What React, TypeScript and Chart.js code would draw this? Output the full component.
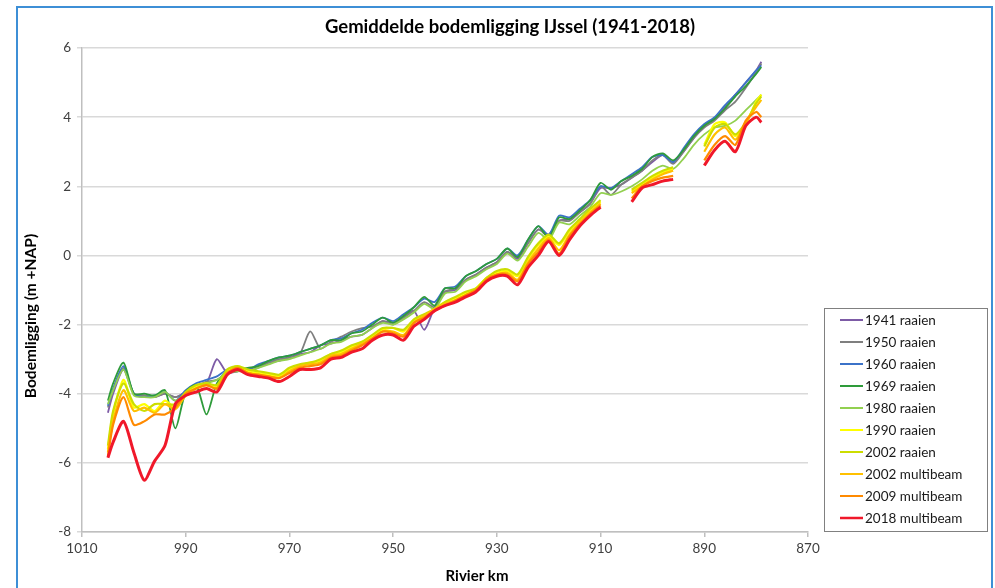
import React, { useEffect, useRef } from 'react';
import { Chart, registerables } from 'chart.js';

Chart.register(...registerables);

const TITLE = 'Gemiddelde bodemligging IJssel (1941-2018)';
const X_TITLE = 'Rivier km';
const Y_TITLE = 'Bodemligging (m +NAP)';

const X_TICKS = [1010, 990, 970, 950, 930, 910, 890, 870];
const Y_TICKS = [-8, -6, -4, -2, 0, 2, 4, 6];

const KM = [
  1005, 1004, 1002, 1000, 998, 996, 994, 992, 990, 988,
  986, 984, 982, 980, 978, 976, 974, 972, 970, 968,
  966, 964, 962, 960, 958, 956, 954, 952, 950, 948,
  946, 944, 942, 940, 938, 936, 934, 932, 930, 928,
  926, 924, 922, 920, 918, 916, 914, 912, 910, 908,
  906, 904, 902, 900, 898, 896, 894, 892, 890, 888,
  886, 884, 882, 880, 879,
];

const Y1941 = [
  -4.55, -4.0, -3.3, -4.0, -4.05, -4.1, -4.0, -4.1, -3.95, -3.75,
  -3.7, -3.0, -3.4, -3.35, -3.35, -3.25, -3.1, -3.05, -2.95, -2.85,
  -2.8, -2.6, -2.55, -2.45, -2.35, -2.3, -2.1, -1.9, -1.95, -1.8,
  -1.6, -2.15, -1.5, -1.05, -1.0, -0.7, -0.55, -0.35, -0.2, 0.1,
  -0.1, 0.35, 0.75, 0.6, 1.0, 1.05, 1.25, 1.5, 1.95, 1.95,
  2.05, 2.25, 2.45, 2.7, 2.9, 2.7, 3.0, 3.4, 3.75, 3.95,
  4.3, 4.65, 5.0, 5.35, 5.6,
];

const Y1950 = [
  -4.4, -3.9, -3.25, -4.0, -4.05, -4.1, -4.0, -4.1, -3.95, -3.8,
  -3.65, -3.6, -3.4, -3.35, -3.3, -3.2, -3.1, -3.0, -2.95, -2.85,
  -2.2, -2.7, -2.5, -2.35, -2.2, -2.1, -2.05, -1.9, -2.0, -1.8,
  -1.6, -1.35, -1.5, -1.05, -0.95, -0.7, -0.55, -0.35, -0.2, 0.1,
  -0.05, 0.35, 0.75, 0.55, 1.0, 1.0, 1.25, 1.5, 2.0, 1.75,
  2.05, 2.25, 2.45, 2.75, 2.9, 2.65, 3.0, 3.4, 3.7, 3.9,
  4.2, 4.45, 4.85, 5.3, 5.55,
];

const Y1960 = [
  -4.35, -3.85, -3.2, -4.0, -4.1, -4.05, -3.95, -4.2, -3.9, -3.7,
  -3.6, -3.5, -3.3, -3.25, -3.3, -3.15, -3.05, -2.95, -2.9, -2.8,
  -2.7, -2.6, -2.45, -2.4, -2.25, -2.15, -1.95, -1.8, -1.9, -1.7,
  -1.5, -1.25, -1.35, -0.95, -0.9, -0.6, -0.45, -0.25, -0.1, 0.2,
  0.0, 0.45, 0.85, 0.6, 1.15, 1.1, 1.35, 1.6, 2.0, 1.95,
  2.15, 2.35, 2.55, 2.85, 2.9, 2.7, 3.1, 3.5, 3.8, 4.0,
  4.35, 4.65, 5.0, 5.35, 5.5,
];

const Y1969 = [
  -4.2, -3.7, -3.1, -4.0, -4.0, -4.05, -3.9, -5.0, -3.95, -3.75,
  -4.6, -3.7, -3.35, -3.3, -3.25, -3.2, -3.05, -2.95, -2.9, -2.8,
  -2.7, -2.6, -2.45, -2.45, -2.25, -2.2, -2.0, -1.8, -1.95, -1.75,
  -1.5, -1.2, -1.45, -0.95, -0.95, -0.6, -0.45, -0.25, -0.1, 0.2,
  -0.05, 0.45, 0.85, 0.5, 1.1, 1.05, 1.3, 1.6, 2.1, 1.9,
  2.15, 2.3, 2.5, 2.85, 2.95, 2.75, 3.05, 3.45, 3.75, 3.95,
  4.25, 4.6, 4.9, 5.25, 5.45,
];

const Y1980 = [
  -4.3, -3.9, -3.3, -4.05, -4.1, -4.1, -3.95, -4.2, -4.0, -3.8,
  -3.7, -3.6, -3.4, -3.35, -3.35, -3.25, -3.15, -3.05, -3.0, -2.9,
  -2.8, -2.7, -2.55, -2.5, -2.35, -2.3, -2.1, -1.95, -2.0, -1.85,
  -1.65, -1.4, -1.55, -1.1, -1.05, -0.75, -0.6, -0.4, -0.25, 0.05,
  -0.15, 0.25, 0.65, 0.45, 0.95, 0.9, 1.15, 1.4, 1.8, 1.75,
  1.85, 2.0, 2.2, 2.45, 2.6, 2.5, 2.8, 3.2, 3.5, 3.7,
  3.75, 3.9, 4.2, 4.5, 4.65,
];

const Y1990 = [
  -5.6, -4.6, -3.6, -4.4, -4.3, -4.5, -4.2, -4.4, -4.0, -3.8,
  -3.7, -3.8, -3.35, -3.2, -3.35, -3.4, -3.45, -3.5, -3.3, -3.2,
  -3.1, -3.05, -2.85, -2.8, -2.65, -2.5, -2.35, -2.15, -2.1, -2.2,
  -1.9, -1.75, -1.55, -1.35, -1.25, -1.1, -0.95, -0.65, -0.5, -0.45,
  -0.6, -0.1, 0.3, 0.55, 0.3, 0.7, 1.0, 1.3, 1.55, null,
  null, 1.85, 2.05, 2.25, 2.4, 2.5, null, null, 3.2, 3.8,
  3.85, 3.45, 3.8, 4.45, 4.65,
];

const Y2002R = [
  -5.5, -4.5, -3.7, -4.3, -4.5, -4.3, -4.3, -4.3, -3.95, -3.75,
  -3.7, -3.75, -3.3, -3.2, -3.3, -3.35, -3.4, -3.45, -3.25, -3.15,
  -3.1, -3.0, -2.85, -2.75, -2.6, -2.5, -2.3, -2.1, -2.1, -2.15,
  -1.85, -1.7, -1.55, -1.35, -1.2, -1.05, -0.95, -0.65, -0.45, -0.4,
  -0.55, -0.05, 0.35, 0.6, 0.35, 0.75, 1.05, 1.35, 1.6, null,
  null, 1.9, 2.1, 2.3, 2.45, 2.55, null, null, 3.15, 3.7,
  3.8, 3.5, 3.85, 4.4, 4.6,
];

const Y2002M = [
  -5.7, -4.8, -3.9, -4.5, -4.4, -4.55, -4.3, -4.45, -4.05, -3.85,
  -3.75, -3.85, -3.4, -3.25, -3.4, -3.45, -3.5, -3.55, -3.35, -3.2,
  -3.15, -3.1, -2.9, -2.85, -2.7, -2.55, -2.4, -2.2, -2.2, -2.3,
  -1.95, -1.75, -1.55, -1.4, -1.3, -1.15, -1.0, -0.7, -0.55, -0.5,
  -0.7, -0.2, 0.2, 0.5, 0.15, 0.6, 0.95, 1.25, 1.5, null,
  null, 1.8, 2.0, 2.2, 2.35, 2.45, null, null, 3.0, 3.5,
  3.7, 3.35, 3.85, 4.3, 4.5,
];

const Y2009M = [
  -5.8, -4.9, -4.1, -4.9, -4.8, -4.6, -4.6, -4.4, -4.0, -3.85,
  -3.75, -3.85, -3.4, -3.25, -3.4, -3.45, -3.5, -3.55, -3.4, -3.25,
  -3.2, -3.15, -2.95, -2.9, -2.75, -2.6, -2.4, -2.2, -2.25, -2.35,
  -1.95, -1.8, -1.6, -1.45, -1.3, -1.15, -1.0, -0.7, -0.55, -0.55,
  -0.75, -0.25, 0.1, 0.45, 0.05, 0.55, 0.9, 1.2, 1.45, null,
  null, 1.65, 2.0, 2.15, 2.25, 2.3, null, null, 2.75, 3.2,
  3.45, 3.2, 3.9, 4.15, 4.0,
];

const Y2018M = [
  -5.85, -5.4, -4.8, -5.7, -6.5, -5.95, -5.5, -4.3, -4.05, -3.95,
  -3.85, -3.95, -3.45, -3.3, -3.45, -3.5, -3.55, -3.65, -3.5, -3.3,
  -3.3, -3.25, -3.0, -2.95, -2.8, -2.7, -2.45, -2.3, -2.3, -2.45,
  -2.05, -1.85, -1.6, -1.45, -1.35, -1.2, -1.05, -0.75, -0.6, -0.6,
  -0.85, -0.35, 0.0, 0.4, 0.0, 0.45, 0.85, 1.15, 1.4, null,
  null, 1.55, 1.95, 2.05, 2.15, 2.2, null, null, 2.6, 3.05,
  3.3, 3.0, 3.75, 4.0, 3.85,
];

const SERIES_NAMES = [
  '1941 raaien', '1950 raaien', '1960 raaien', '1969 raaien', '1980 raaien',
  '1990 raaien', '2002 raaien', '2002 multibeam', '2009 multibeam', '2018 multibeam',
];
const SERIES_VALUES = [Y1941, Y1950, Y1960, Y1969, Y1980, Y1990, Y2002R, Y2002M, Y2009M, Y2018M];
const SERIES_COLORS = [
  '#7D5BA6', '#7F7F7F', '#3B72C8', '#2E9B3A', '#92D050',
  '#FFFF00', '#CCDD00', '#FFC000', '#FF8A00', '#F0182A',
];
const SERIES_WIDTHS = [1.8, 1.8, 1.8, 1.8, 1.8, 2.2, 2.2, 2.2, 2.2, 3];

const FONT = 'Lato, "Open Sans", sans-serif';

const decorPlugin = {
  id: 'decor',
  afterDraw(chart: any) {
    const ctx = chart.ctx as CanvasRenderingContext2D;
    ctx.save();
    ctx.fillStyle = '#000000';
    ctx.textAlign = 'center';
    ctx.textBaseline = 'middle';
    ctx.font = `bold 18.5px ${FONT}`;
    ctx.fillText(TITLE, 510, 27);
    ctx.font = `bold 15px ${FONT}`;
    ctx.fillText(X_TITLE, 477, 576);
    ctx.save();
    ctx.translate(31, 316);
    ctx.rotate(-Math.PI / 2);
    ctx.font = `bold 15.5px ${FONT}`;
    ctx.fillText(Y_TITLE, 0, 0);
    ctx.restore();

    // legend box
    ctx.fillStyle = '#ffffff';
    ctx.fillRect(824, 308, 163, 223);
    ctx.strokeStyle = '#808080';
    ctx.lineWidth = 1;
    ctx.strokeRect(824.5, 308.5, 163, 223);
    ctx.font = `13.5px ${FONT}`;
    ctx.textAlign = 'left';
    ctx.textBaseline = 'middle';
    chart.data.datasets.forEach((ds: any, i: number) => {
      const y = 320 + i * 22;
      ctx.strokeStyle = ds.borderColor;
      ctx.lineWidth = i === 9 ? 2.5 : 2;
      ctx.beginPath();
      ctx.moveTo(840, y);
      ctx.lineTo(863, y);
      ctx.stroke();
      ctx.fillStyle = '#1a1a1a';
      ctx.fillText(ds.label, 865, y + 1);
    });
    ctx.restore();
  },
};

export default function App() {
  const ref = useRef<HTMLCanvasElement | null>(null);

  useEffect(() => {
    if (!ref.current) return;
    const datasets = SERIES_NAMES.map((name, i) => ({
      label: name,
      data: KM.map((k, j) => ({ x: k, y: SERIES_VALUES[i][j] })),
      borderColor: SERIES_COLORS[i],
      backgroundColor: SERIES_COLORS[i],
      borderWidth: SERIES_WIDTHS[i],
      pointRadius: 0,
      tension: 0.25,
      spanGaps: false,
      fill: false,
      order: 9 - i,
    }));
    const chart = new Chart(ref.current, {
      type: 'line',
      data: { datasets },
      options: {
        responsive: false,
        animation: false,
        layout: { padding: { left: 0, right: 187, top: 48, bottom: 0 } },
        plugins: {
          legend: { display: false },
          title: { display: false },
          tooltip: { enabled: false },
        },
        scales: {
          x: {
            type: 'linear',
            reverse: true,
            min: 870,
            max: 1010,
            afterFit: (s: any) => { s.height = 56; },
            afterBuildTicks: (s: any) => { s.ticks = X_TICKS.map((v) => ({ value: v })); },
            ticks: {
              color: '#404040',
              font: { family: FONT, size: 13.5 },
              padding: 4,
              maxRotation: 0,
              autoSkip: false,
              callback: (v: any) => String(v),
            },
            grid: { drawOnChartArea: false, drawTicks: true, tickLength: 5, color: '#bfbfbf', lineWidth: 1.5 },
            border: { color: '#bfbfbf', width: 1.5 },
          },
          y: {
            min: -8,
            max: 6,
            afterFit: (s: any) => { s.width = 82; },
            afterBuildTicks: (s: any) => { s.ticks = Y_TICKS.map((v) => ({ value: v })); },
            ticks: {
              color: '#404040',
              font: { family: FONT, size: 13.5 },
              padding: 6,
              callback: (v: any) => String(v),
            },
            grid: { color: '#d9d9d9', lineWidth: 1.5, drawTicks: true, tickLength: 5 },
            border: { color: '#bfbfbf', width: 1.5 },
          },
        },
      },
      plugins: [decorPlugin],
    });
    return () => chart.destroy();
  }, []);

  return (
    <div style={{ position: 'fixed', left: 0, top: 0, width: 995, height: 588, background: '#ffffff', overflow: 'hidden' }}>
      <div
        style={{
          position: 'absolute',
          left: 16,
          top: 6,
          width: 977,
          height: 600,
          border: '2px solid #3d8fd6',
          boxSizing: 'border-box',
        }}
      />
      <canvas ref={ref} width={995} height={588} style={{ position: 'absolute', left: 0, top: 0 }} />
    </div>
  );
}
